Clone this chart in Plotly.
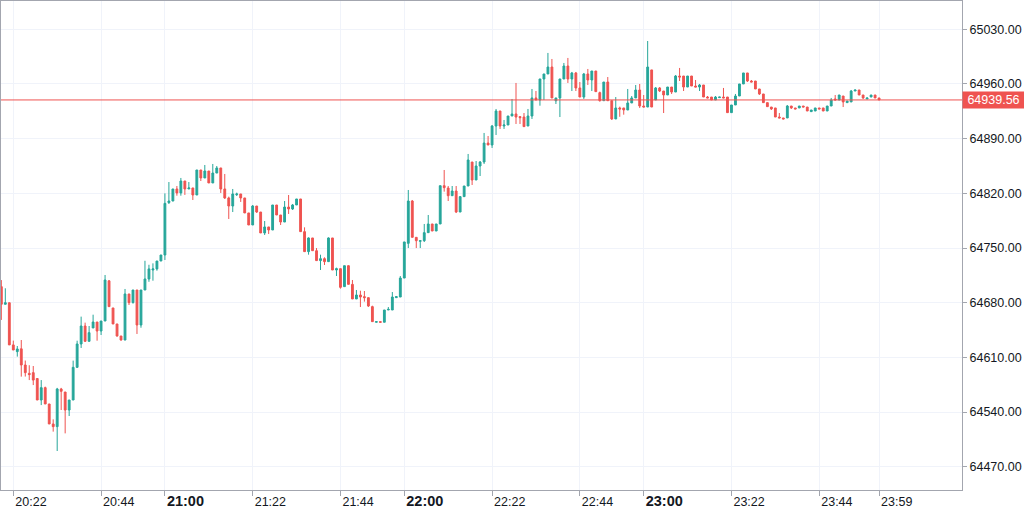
import pandas
import plotly.graph_objects as go

# one-minute candles, 20:19 .. 23:59
start_time = "2021-04-14 20:19"

open_price = [
    64700.6, 64678.0, 64680.0, 64626.0, 64617.4, 64621.0, 64600.3, 64589.6, 64590.5, 64583.0,
    64555.5, 64571.3, 64550.4, 64524.8, 64521.4, 64569.6, 64565.7, 64542.7, 64555.5, 64597.3,
    64627.2, 64650.2, 64630.6, 64647.7, 64655.3, 64643.8, 64656.6, 64708.0, 64673.3, 64652.8,
    64637.4, 64632.3, 64691.2, 64680.1, 64696.3, 64651.5, 64696.3, 64710.4, 64721.9, 64723.3,
    64733.4, 64741.1, 64808.1, 64810.2, 64825.6, 64820.5, 64835.8, 64825.6, 64826.9, 64817.9,
    64849.9, 64839.7, 64848.6, 64833.3, 64846.0, 64852.5, 64825.6, 64814.1, 64803.8, 64818.3,
    64819.2, 64814.1, 64794.9, 64779.5, 64803.8, 64796.1, 64769.3, 64777.0, 64773.1, 64805.1,
    64792.3, 64783.3, 64802.5, 64800.0, 64805.1, 64812.8, 64771.0, 64745.4, 64762.9, 64746.6,
    64733.9, 64736.4, 64732.6, 64762.9, 64721.9, 64723.6, 64700.6, 64727.4, 64703.5, 64684.8,
    64689.9, 64687.8, 64686.5, 64675.0, 64655.0, 64655.8, 64655.0, 64670.7, 64670.7, 64686.5,
    64687.3, 64711.6, 64756.0, 64810.2, 64763.7, 64758.6, 64759.4, 64769.7, 64780.8, 64771.8,
    64780.8, 64829.8, 64826.8, 64817.0, 64823.0, 64796.1, 64815.8, 64829.4, 64860.1, 64837.1,
    64855.0, 64860.1, 64884.4, 64881.9, 64906.2, 64925.4, 64906.2, 64907.5, 64919.0, 64921.6,
    64918.2, 64917.7, 64906.2, 64919.0, 64942.1, 64939.5, 64966.4, 64972.8, 64981.7, 64938.5,
    64942.1, 64966.4, 64983.0, 64966.4, 64974.1, 64954.9, 64943.3, 64972.8, 64965.1, 64976.6,
    64948.9, 64938.6, 64962.5, 64938.6, 64915.2, 64929.3, 64929.3, 64926.7, 64935.7, 64942.1,
    64952.3, 64931.8, 64930.5, 64978.0, 64939.5, 64954.9, 64951.0, 64945.9, 64956.1, 64949.7,
    64970.2, 64970.2, 64956.1, 64970.2, 64957.4, 64956.1, 64958.7, 64943.3, 64943.3, 64939.5,
    64942.5, 64943.3, 64943.3, 64923.3, 64933.1, 64944.6, 64960.0, 64974.1, 64963.8, 64963.8,
    64953.6, 64947.2, 64936.1, 64930.5, 64929.3, 64917.7, 64916.5, 64916.5, 64931.8, 64929.3,
    64929.3, 64931.8, 64930.5, 64924.6, 64925.4, 64929.3, 64929.3, 64925.4, 64931.8, 64940.8,
    64939.5, 64944.6, 64936.1, 64937.0, 64951.0, 64952.3, 64945.9, 64940.8, 64943.3, 64945.9,
    64942.1,
]

high_price = [
    64709.0, 64698.5, 64680.0, 64631.5, 64624.6, 64632.3, 64606.0, 64600.0, 64599.0, 64583.0,
    64581.0, 64572.6, 64550.4, 64530.7, 64571.0, 64571.0, 64565.7, 64555.5, 64605.9, 64631.4,
    64662.2, 64654.5, 64650.2, 64664.7, 64655.3, 64656.6, 64715.5, 64709.0, 64673.3, 64652.8,
    64637.4, 64697.6, 64691.2, 64696.3, 64696.3, 64696.3, 64733.7, 64728.6, 64730.4, 64733.4,
    64741.1, 64820.0, 64834.5, 64825.6, 64829.4, 64839.7, 64835.8, 64834.5, 64826.9, 64849.9,
    64849.9, 64856.3, 64848.6, 64857.6, 64855.0, 64852.5, 64844.8, 64815.8, 64825.6, 64820.9,
    64819.2, 64814.1, 64794.9, 64805.1, 64803.8, 64796.1, 64784.6, 64777.0, 64805.1, 64805.1,
    64792.3, 64810.2, 64817.9, 64806.4, 64812.8, 64812.8, 64776.5, 64763.7, 64762.9, 64750.0,
    64741.5, 64738.1, 64763.7, 64762.9, 64724.9, 64723.6, 64727.4, 64728.0, 64709.1, 64696.3,
    64695.4, 64695.0, 64686.5, 64676.2, 64655.8, 64655.8, 64670.7, 64674.5, 64693.7, 64687.8,
    64714.2, 64757.8, 64824.3, 64811.5, 64763.7, 64759.4, 64780.8, 64792.3, 64780.8, 64780.8,
    64829.8, 64849.9, 64829.4, 64829.4, 64829.4, 64816.6, 64829.4, 64870.4, 64860.1, 64861.4,
    64861.4, 64897.3, 64893.4, 64907.5, 64928.0, 64925.4, 64913.9, 64919.0, 64940.8, 64961.3,
    64919.0, 64922.8, 64928.0, 64953.6, 64951.0, 64966.4, 64972.8, 64999.7, 64992.0, 64942.1,
    64966.4, 64986.9, 64993.3, 64975.4, 64975.4, 64962.5, 64974.1, 64979.2, 64976.6, 64976.6,
    64950.2, 64962.5, 64968.9, 64938.6, 64943.3, 64931.0, 64929.3, 64953.6, 64944.6, 64958.7,
    64960.0, 64945.9, 65015.0, 64978.0, 64956.1, 64956.1, 64951.0, 64956.1, 64956.1, 64971.5,
    64980.5, 64970.2, 64970.2, 64970.2, 64965.1, 64960.0, 64958.7, 64944.6, 64943.3, 64944.6,
    64943.3, 64954.9, 64943.3, 64933.1, 64947.2, 64960.0, 64974.1, 64974.1, 64965.1, 64963.8,
    64953.6, 64947.2, 64936.1, 64930.5, 64929.3, 64922.8, 64916.5, 64933.1, 64931.8, 64929.3,
    64931.8, 64931.8, 64930.5, 64926.7, 64929.3, 64929.3, 64929.3, 64931.8, 64942.1, 64945.9,
    64945.9, 64944.6, 64938.2, 64952.3, 64952.3, 64952.3, 64945.9, 64942.1, 64945.9, 64945.9,
    64942.1,
]

low_price = [
    64658.0, 64678.0, 64626.0, 64619.5, 64611.0, 64585.4, 64585.5, 64581.0, 64574.6, 64555.5,
    64549.0, 64550.4, 64524.8, 64515.0, 64490.2, 64542.7, 64512.8, 64535.0, 64555.5, 64596.5,
    64622.1, 64629.8, 64630.6, 64647.7, 64631.4, 64638.7, 64656.6, 64675.0, 64652.8, 64636.6,
    64631.5, 64632.0, 64677.1, 64679.0, 64640.0, 64648.0, 64696.3, 64706.8, 64708.2, 64721.0,
    64733.4, 64734.7, 64806.4, 64810.0, 64817.0, 64817.0, 64818.0, 64825.6, 64811.5, 64817.9,
    64835.8, 64839.7, 64833.3, 64833.3, 64846.0, 64820.5, 64812.8, 64787.2, 64796.1, 64816.6,
    64809.0, 64794.9, 64779.5, 64779.5, 64794.9, 64769.3, 64766.7, 64768.0, 64773.1, 64792.3,
    64779.5, 64783.3, 64793.6, 64798.7, 64805.1, 64771.0, 64745.4, 64741.5, 64746.6, 64733.9,
    64721.9, 64728.3, 64732.6, 64721.9, 64714.2, 64698.0, 64700.6, 64703.5, 64684.8, 64684.8,
    64674.5, 64681.4, 64674.5, 64655.8, 64655.0, 64655.0, 64655.0, 64670.7, 64670.7, 64686.5,
    64687.3, 64711.6, 64750.0, 64763.7, 64750.0, 64750.0, 64757.7, 64769.7, 64771.8, 64771.8,
    64780.8, 64822.2, 64810.2, 64817.0, 64794.8, 64796.1, 64815.8, 64829.4, 64830.7, 64837.1,
    64842.2, 64857.6, 64881.9, 64878.1, 64894.7, 64902.4, 64902.4, 64907.5, 64919.0, 64908.8,
    64908.8, 64905.4, 64906.2, 64915.2, 64939.5, 64932.2, 64939.5, 64972.8, 64942.1, 64934.4,
    64917.7, 64966.4, 64961.3, 64951.0, 64951.0, 64943.3, 64940.8, 64958.7, 64951.0, 64950.2,
    64937.4, 64938.6, 64938.6, 64913.9, 64915.2, 64918.0, 64920.7, 64926.7, 64935.7, 64942.1,
    64929.3, 64930.5, 64930.5, 64930.5, 64939.5, 64949.7, 64922.8, 64945.9, 64947.2, 64949.7,
    64963.8, 64951.0, 64956.1, 64957.4, 64956.1, 64951.0, 64943.3, 64942.1, 64939.5, 64939.5,
    64942.5, 64942.1, 64923.3, 64923.3, 64933.1, 64944.6, 64960.0, 64962.5, 64962.5, 64953.6,
    64945.9, 64936.1, 64931.0, 64926.7, 64917.7, 64916.5, 64915.2, 64916.5, 64928.0, 64928.0,
    64929.3, 64930.5, 64925.4, 64924.6, 64925.4, 64928.0, 64925.4, 64925.4, 64931.8, 64939.5,
    64939.5, 64930.5, 64936.1, 64937.0, 64951.0, 64945.9, 64940.8, 64940.8, 64943.3, 64942.1,
    64939.56,
]

close_price = [
    64678.0, 64680.0, 64626.0, 64619.5, 64620.8, 64600.3, 64590.5, 64588.0, 64581.0, 64555.5,
    64571.3, 64550.4, 64524.8, 64521.4, 64569.6, 64566.6, 64542.7, 64555.5, 64597.3, 64627.2,
    64650.2, 64630.6, 64641.7, 64655.3, 64643.8, 64656.6, 64709.1, 64675.0, 64652.8, 64637.4,
    64632.3, 64691.2, 64680.1, 64696.3, 64651.5, 64696.3, 64710.4, 64723.3, 64723.3, 64733.4,
    64741.1, 64807.2, 64810.2, 64825.6, 64820.5, 64835.8, 64825.6, 64826.9, 64817.9, 64849.9,
    64839.7, 64848.6, 64833.3, 64846.0, 64852.5, 64825.6, 64814.1, 64803.8, 64819.2, 64819.2,
    64814.1, 64794.9, 64779.5, 64803.8, 64796.1, 64769.3, 64777.0, 64773.1, 64805.1, 64792.3,
    64783.3, 64802.5, 64800.0, 64805.1, 64812.8, 64771.0, 64745.4, 64762.9, 64746.6, 64733.9,
    64736.4, 64732.6, 64762.9, 64721.9, 64723.6, 64699.7, 64727.4, 64703.5, 64684.8, 64689.9,
    64687.3, 64686.5, 64675.8, 64655.8, 64655.8, 64655.0, 64670.7, 64671.5, 64687.3, 64687.8,
    64711.6, 64757.8, 64810.2, 64763.7, 64759.4, 64759.4, 64769.7, 64780.8, 64771.8, 64780.8,
    64829.8, 64827.3, 64817.0, 64823.0, 64796.1, 64815.8, 64829.4, 64862.7, 64837.1, 64855.0,
    64860.1, 64884.4, 64881.9, 64906.2, 64925.4, 64906.2, 64907.5, 64919.0, 64921.6, 64917.7,
    64916.9, 64905.4, 64919.0, 64942.1, 64939.5, 64966.4, 64972.8, 64981.7, 64942.1, 64942.1,
    64966.4, 64983.0, 64966.4, 64974.1, 64954.9, 64943.3, 64972.8, 64965.1, 64976.6, 64950.2,
    64938.6, 64962.5, 64938.6, 64915.2, 64929.3, 64928.0, 64926.7, 64935.7, 64942.1, 64952.3,
    64931.8, 64930.5, 64981.7, 64930.5, 64954.9, 64951.0, 64945.9, 64956.1, 64949.7, 64970.2,
    64968.9, 64956.1, 64970.2, 64957.4, 64956.1, 64958.7, 64943.3, 64942.1, 64939.5, 64943.3,
    64943.3, 64942.1, 64923.3, 64933.1, 64944.6, 64960.0, 64974.1, 64963.8, 64962.5, 64953.6,
    64947.2, 64936.1, 64931.0, 64928.0, 64917.7, 64916.5, 64915.2, 64931.8, 64929.3, 64928.0,
    64931.8, 64930.5, 64925.4, 64926.7, 64929.3, 64928.0, 64925.4, 64931.8, 64939.5, 64939.5,
    64945.9, 64937.0, 64938.2, 64951.0, 64952.3, 64945.9, 64942.1, 64942.1, 64945.9, 64942.1,
    64939.56,
]

last_price = 64939.56

tick_times = ["20:22", "20:44", "21:00", "21:22", "21:44", "22:00",
              "22:22", "22:44", "23:00", "23:22", "23:44", "23:59"]
price_ticks = [64470, 64540, 64610, 64680, 64750, 64820, 64890, 64960, 65030]

UP = "#26a69a"
DOWN = "#ef5350"
GRID = "#f0f3fa"
FRAME = "#a3a6af"

times = pandas.date_range(start=start_time, periods=len(close_price), freq="min")
day = start_time.split(" ")[0]

tick_vals = [day + " " + t for t in tick_times]
tick_text = []
for t in tick_times:
    if t.endswith(":00"):
        tick_text.append('<span style="font-size:14.5px"><b>%s</b></span>' % t)
    else:
        tick_text.append(t)

fig = go.Figure(data=[
    go.Candlestick(
        x=times,
        open=open_price,
        high=high_price,
        low=low_price,
        close=close_price,
        increasing=dict(line=dict(color=UP, width=1), fillcolor=UP),
        decreasing=dict(line=dict(color=DOWN, width=1), fillcolor=DOWN),
        whiskerwidth=0,
        hoverinfo="skip")])

fig.add_shape(type="line", xref="paper", x0=0, x1=1, yref="y",
              y0=last_price, y1=last_price,
              line=dict(color=DOWN, width=1))

fig.add_annotation(xref="paper", x=1, xanchor="left", yref="y", y=last_price,
                   yanchor="middle", text="%.2f" % last_price, showarrow=False,
                   bgcolor=DOWN, font=dict(color="white", size=12.5),
                   width=57, height=12, borderpad=2)

fig.update_layout(
    width=1024, height=515,
    margin=dict(l=1, r=62, t=1, b=25),
    paper_bgcolor="white", plot_bgcolor="white",
    font=dict(family="Liberation Sans, Arial, sans-serif", size=12.5, color="#131722"),
    showlegend=False,
    boxgap=0.35,
    xaxis=dict(
        range=[day + " 20:18:55", "2021-04-15 00:19:47"],
        rangeslider=dict(visible=False),
        tickmode="array", tickvals=tick_vals, ticktext=tick_text,
        ticklabelposition="outside right", ticklabelshift=1,
        ticks="outside", ticklen=5, tickcolor=FRAME,
        showgrid=True, gridcolor=GRID, gridwidth=1,
        showline=True, linecolor=FRAME, mirror=True,
        zeroline=False, fixedrange=True),
    yaxis=dict(
        side="right",
        range=[64440.3, 65066.2],
        tickmode="array", tickvals=price_ticks, tickformat=".2f",
        ticks="outside", ticklen=4, tickcolor=FRAME,
        showgrid=True, gridcolor=GRID, gridwidth=1,
        showline=True, linecolor=FRAME, mirror=True,
        zeroline=False, fixedrange=True),
)

# the page body has a default 8px margin; drop it so the chart fills the window
fig.write_html("out.html", config={"displayModeBar": False},
               post_script="document.body.style.margin = '0';")
